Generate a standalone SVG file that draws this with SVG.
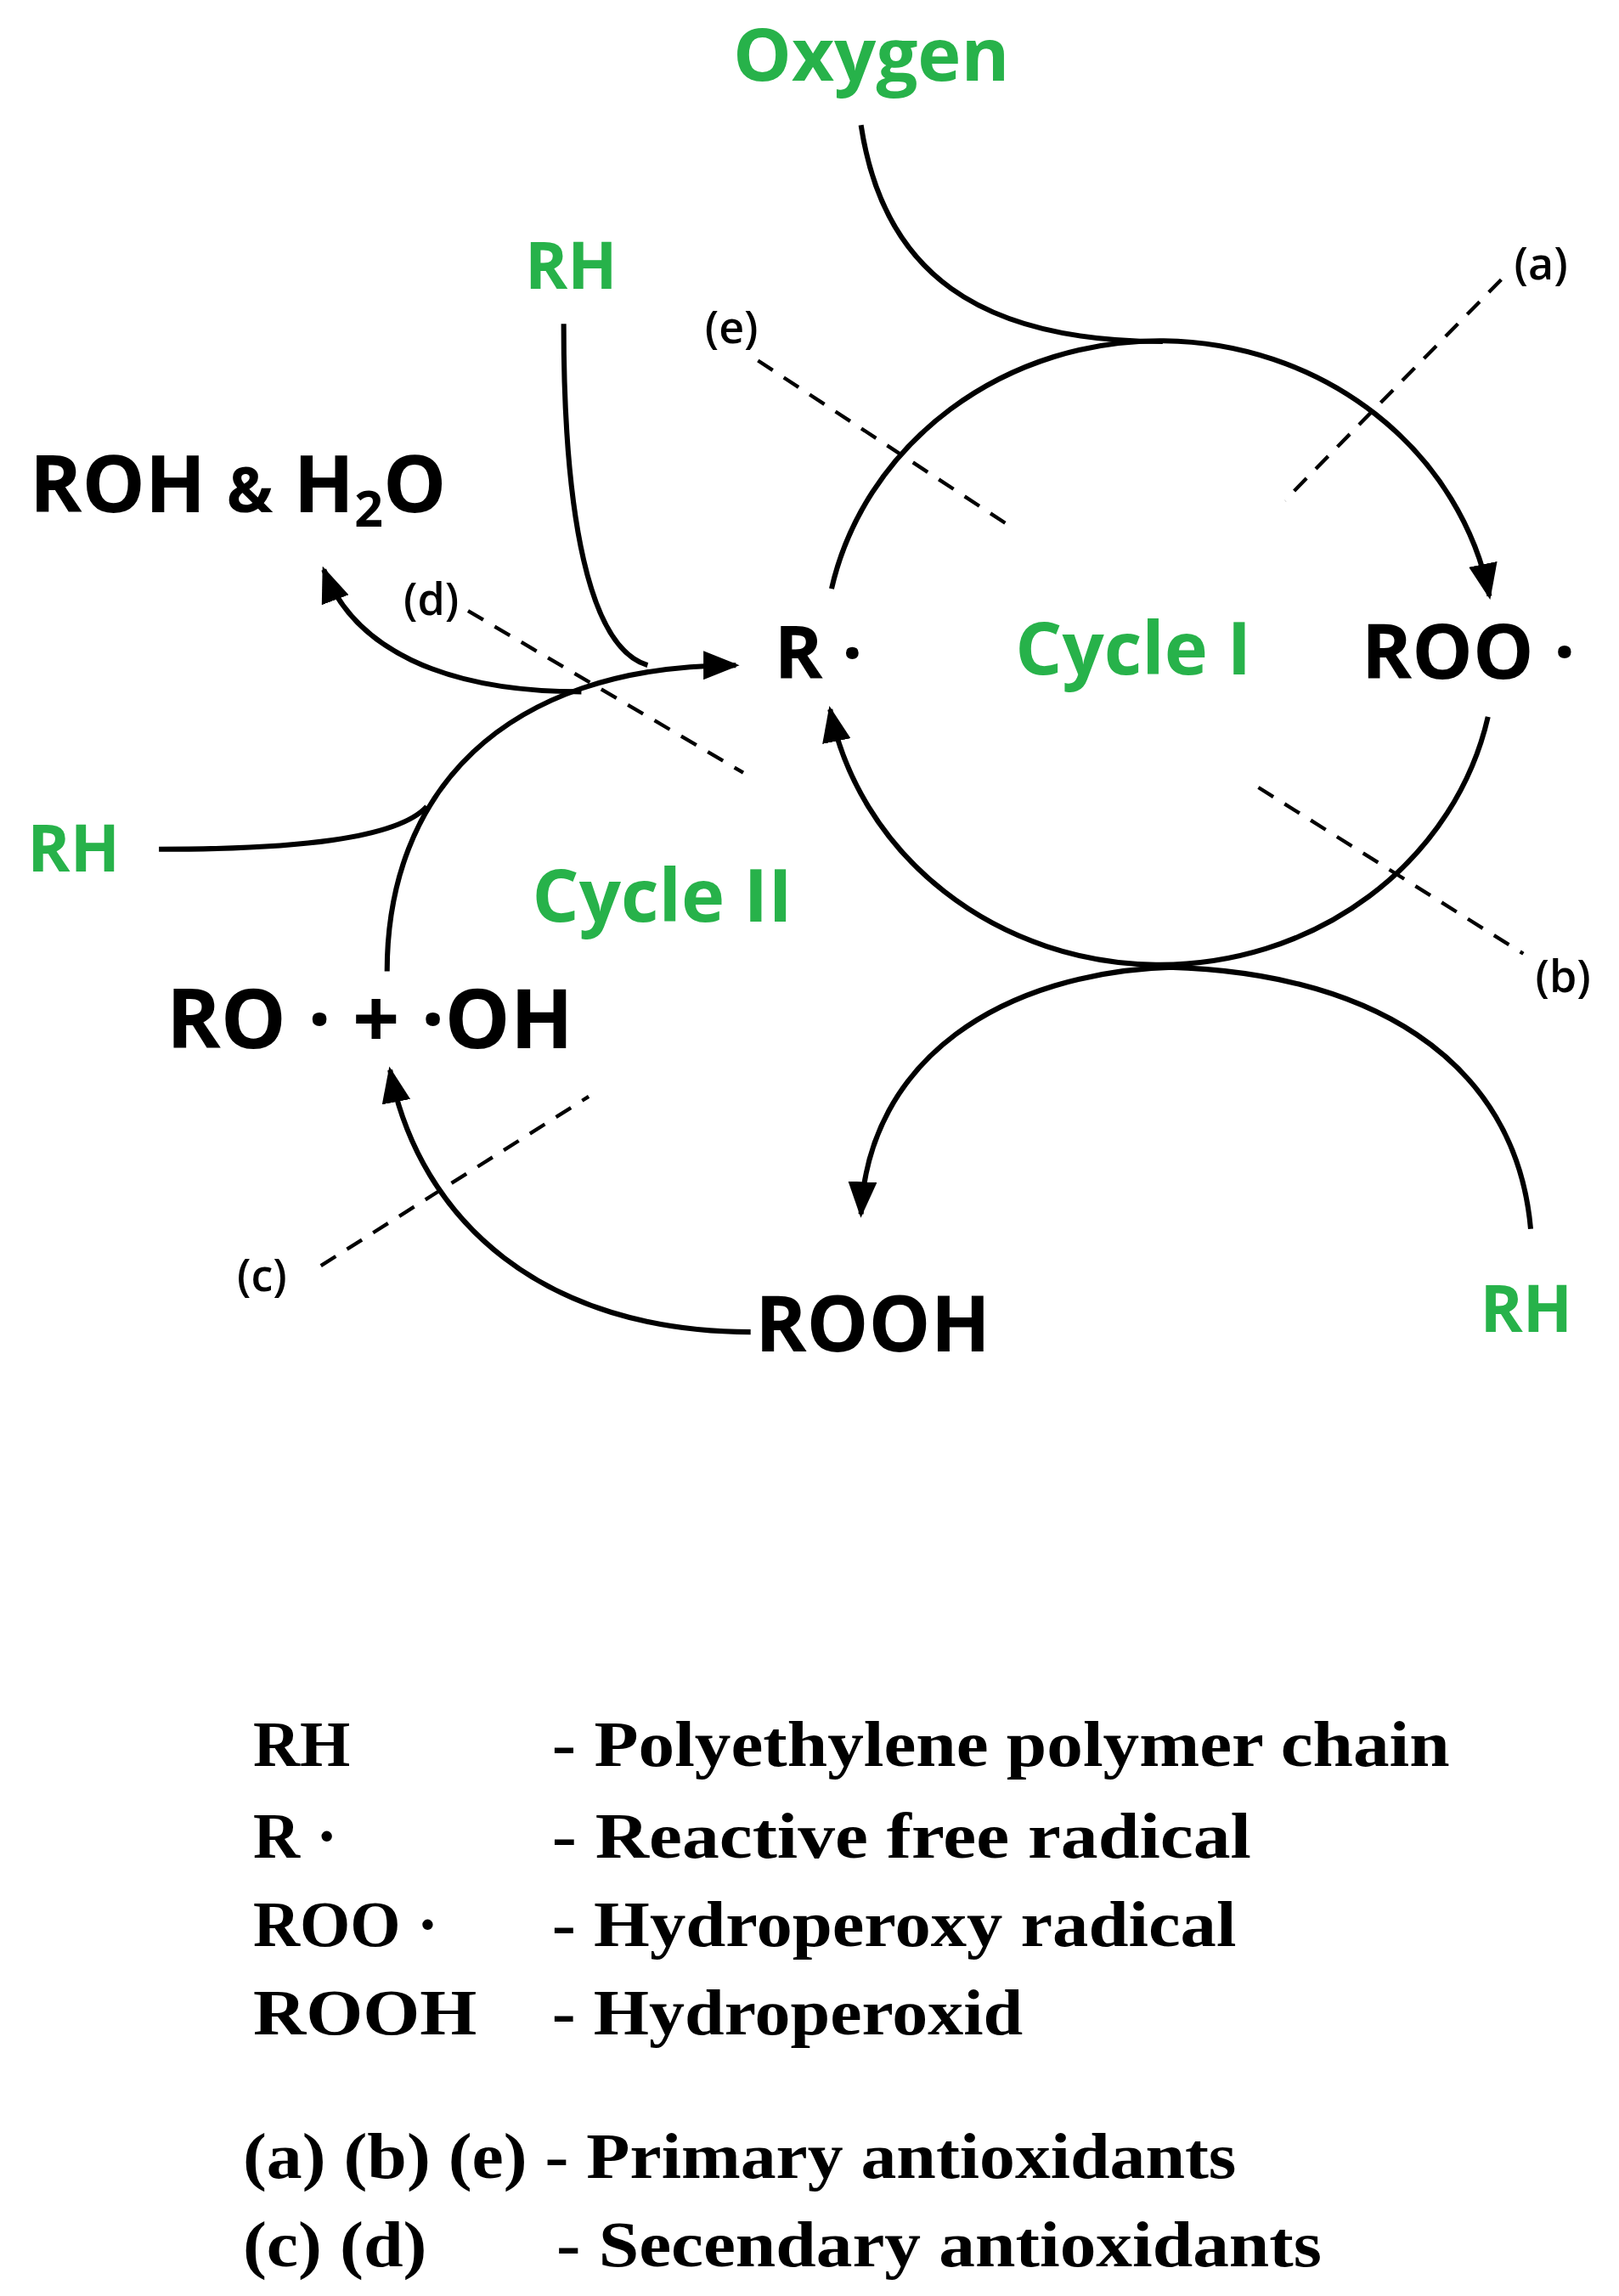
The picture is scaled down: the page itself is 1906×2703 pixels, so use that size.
<svg xmlns="http://www.w3.org/2000/svg" width="1906" height="2703" viewBox="0 0 1906 2703">
<style>
.c{fill:none;stroke:#000;stroke-width:3.5}
.d{fill:none;stroke:#000;stroke-width:2.5;stroke-dasharray:12 9}
.t{font-family:"Open Sans","Liberation Sans",sans-serif;font-weight:bold;fill:#000}
.g{font-family:"Open Sans","Liberation Sans",sans-serif;font-weight:bold;fill:#27b24a}
.s{font-family:"Open Sans","Liberation Sans",sans-serif;font-weight:600;font-size:30px;fill:#000}
.l{font-family:"Liberation Serif","Times New Roman",serif;font-weight:bold;font-size:44px;fill:#000}
</style>
<defs>
<marker id="ar" viewBox="0 0 10 8" refX="9" refY="4" markerWidth="7" markerHeight="5.6" orient="auto" markerUnits="strokeWidth">
<path d="M0,0L10,4L0,8z" fill="#000"/>
</marker>
</defs>
<rect width="1906" height="2703" fill="#fff"/>
<g transform="scale(1.7327)">
<g id="connectors">
<path class="c" d="M585,85 C600,185 665,232 790,232"/>
<path class="c" d="M565,400 A228,213 0 0 1 1012,405" marker-end="url(#ar)"/>
<path class="c" d="M1011,487 A228,213 0 0 1 564,482" marker-end="url(#ar)"/>
<path class="c" d="M800,657 C680,660 590,720 585,825" marker-end="url(#ar)"/>
<path class="c" d="M780,657 C930,657 1030,720 1040,835"/>
<path class="c" d="M510,905 C370,905 285,830 265,727" marker-end="url(#ar)"/>
<path class="c" d="M263,660 C263,540 340,452 500,452" marker-end="url(#ar)"/>
<path class="c" d="M108,577 C200,577 270,570 290,548"/>
<path class="c" d="M383,220 C383,350 400,440 440,452"/>
<path class="c" d="M395,470 C300,470 240,440 220,387" marker-end="url(#ar)"/>
<path class="d" d="M1020,190 L873,340"/>
<path class="d" d="M515,245 L690,360"/>
<path class="d" d="M855,535 L1035,648"/>
<path class="d" d="M218,860 L400,745"/>
<path class="d" d="M318,415 L505,525"/>
</g>
<g id="oxygen"><text class="g" x="592" y="55" font-size="50" text-anchor="middle">Oxygen</text></g>
<g id="rh-top"><text class="g" x="388" y="196" font-size="44" text-anchor="middle">RH</text></g>
<g id="rh-left"><text class="g" x="50" y="592" font-size="44" text-anchor="middle">RH</text></g>
<g id="rh-bottom"><text class="g" x="1037" y="905" font-size="44" text-anchor="middle">RH</text></g>
<g id="cycle1"><text class="g" x="770" y="458" font-size="50" text-anchor="middle">Cycle I</text></g>
<g id="cycle2"><text class="g" x="450" y="626" font-size="50" text-anchor="middle">Cycle II</text></g>
<g id="r"><text class="t" x="526" y="461" font-size="50">R ·</text></g>
<g id="roo"><text class="t" x="925" y="461" font-size="52">ROO ·</text></g>
<g id="rooh"><text class="t" x="513" y="918" font-size="53">ROOH</text></g>
<g id="ro"><text class="t" x="113" y="712" font-size="56">RO · + ·OH</text></g>
<g id="roh"><text class="t" x="20" y="348" font-size="54">ROH <tspan font-size="42">&amp;</tspan> H<tspan font-size="34" dy="10">2</tspan><tspan dy="-10">O</tspan></text></g>
<g id="labels">
<text class="s" x="1047" y="190" text-anchor="middle">(a)</text>
<text class="s" x="497" y="233" text-anchor="middle">(e)</text>
<text class="s" x="1062" y="674" text-anchor="middle">(b)</text>
<text class="s" x="178" y="877" text-anchor="middle">(c)</text>
<text class="s" x="293" y="418" text-anchor="middle">(d)</text>
</g>
<g id="legend">
<text class="l" x="172" y="1200">RH</text>
<text class="l" x="375" y="1200" textLength="610" lengthAdjust="spacingAndGlyphs">- Polyethylene polymer chain</text>
<text class="l" x="172" y="1262">R ·</text>
<text class="l" x="375" y="1262" textLength="475" lengthAdjust="spacingAndGlyphs">- Reactive free radical</text>
<text class="l" x="172" y="1322">ROO ·</text>
<text class="l" x="375" y="1322" textLength="465" lengthAdjust="spacingAndGlyphs">- Hydroperoxy radical</text>
<text class="l" x="172" y="1382" textLength="152" lengthAdjust="spacingAndGlyphs">ROOH</text>
<text class="l" x="375" y="1382" textLength="320" lengthAdjust="spacingAndGlyphs">- Hydroperoxid</text>
<text class="l" x="165" y="1480" textLength="675" lengthAdjust="spacingAndGlyphs">(a) (b) (e) - Primary antioxidants</text>
<text class="l" x="165" y="1540" textLength="125" lengthAdjust="spacingAndGlyphs">(c) (d)</text>
<text class="l" x="378" y="1540" textLength="520" lengthAdjust="spacingAndGlyphs">- Secendary antioxidants</text>
</g>
</g>
</svg>
